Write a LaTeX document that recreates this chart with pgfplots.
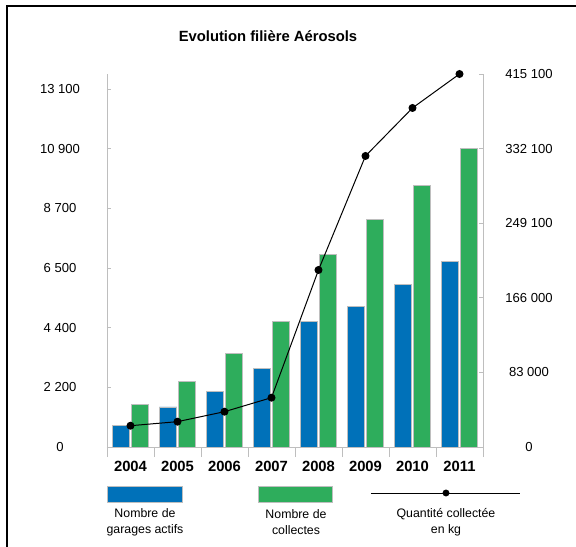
\documentclass[border=0pt]{standalone}
\usepackage{pgfplots}
\pgfplotsset{compat=1.18}
\usepackage{fontspec}
\setmainfont{Liberation Sans}
\definecolor{barblue}{RGB}{0,113,185}
\definecolor{bargreen}{RGB}{46,173,92}
\definecolor{axgray}{RGB}{190,190,190}

\begin{document}
\begin{tikzpicture}[x=0.75pt,y=0.75pt]
\pgfplotsset{
  base/.style={
    scale only axis, width=282pt, height=279.75pt,
    xmin=0.5, xmax=8.5, ymin=0,
    axis line style={axgray, line width=0.6pt},
    tick style={axgray, line width=0.6pt},
    tick align=inside, major tick length=3pt,
    tick label style={font=\fontsize{9.8}{11}\selectfont},
    scaled y ticks=false,
    clip=false,
    /pgf/number format/assume math mode=true,
  }
}
% left y scale (ticks only)
\begin{axis}[base, ymax=13648.9,
  axis x line=none, axis y line*=left,
  xtick=\empty,
  ytick={0,2183.33,4366.67,6550,8733.33,10916.67,13100},
  yticklabels={0,2 200,4 400,6 500,8 700,10 900,13 100},
  yticklabel style={anchor=center, xshift=-35.25pt},
]
\end{axis}
% bars + category axis
\begin{axis}[base, ymax=13648.9,
  axis x line*=bottom, axis y line=none,
  ytick=\empty,
  tick align=outside,
  xtick={1,2,3,4,5,6,7,8},
  xticklabels={2004,2005,2006,2007,2008,2009,2010,2011},
  major tick length=0pt,
  minor xtick={0.5,1.5,2.5,3.5,4.5,5.5,6.5,7.5,8.5},
  minor tick length=7.5pt,
  xticklabel style={font=\bfseries\fontsize{11.1}{13}\selectfont, anchor=center, yshift=-14.25pt},
]
\addplot[ybar, bar width=0.37, bar shift=-0.2, fill=barblue, draw=axgray, line width=0.6pt]
  coordinates {(1,780) (2,1464) (3,2049) (4,2880) (5,4610) (6,5134) (7,5964) (8,6780)};
\addplot[ybar, bar width=0.37, bar shift=0.2, fill=bargreen, draw=axgray, line width=0.6pt]
  coordinates {(1,1562) (2,2415) (3,3414) (4,4610) (5,7062) (6,8343) (7,9587) (8,10930)};
\end{axis}
% line: right axis
\begin{axis}[base, ymax=415100,
  axis x line=none, axis y line*=right,
  xtick=\empty,
  ytick={0,83020,166040,249060,332080,415100},
  yticklabels={0,83 000,166 000,249 100,332 100,415 100},
  yticklabel style={anchor=center, xshift=34.5pt},
]
\addplot[black, line width=0.75pt, mark=*, mark size=2.6pt]
  coordinates {(1,23700) (2,28200) (3,39300) (4,54900) (5,197000) (6,323900) (7,377300) (8,415100)};
\end{axis}

% title and frame
\node[font=\bfseries\fontsize{11.1}{13}\selectfont] at (161,411) {Evolution filière Aérosols};
\draw[line width=1.3pt] (-100,-100) -- (-100,441) -- (469,441);

% legend
\begin{scope}[every node/.style={align=center, font=\fontsize{9.25}{12}\selectfont}]
\draw[axgray, line width=0.6pt, fill=barblue] (0,-39) rectangle (75,-55);
\node at (38,-75) {Nombre de\\garages actifs};
\draw[axgray, line width=0.6pt, fill=bargreen] (151,-39) rectangle (225,-55);
\node at (189,-75) {Nombre de\\collectes};
\draw[black, line width=0.75pt] (264,-46) -- (413,-46);
\fill[black] (339,-46) circle (2.6pt);
\node at (339,-75) {Quantité collectée\\en kg};
\end{scope}

\pgfresetboundingbox
\useasboundingbox (-107,-100) rectangle (469,447);
\end{tikzpicture}
\end{document}
